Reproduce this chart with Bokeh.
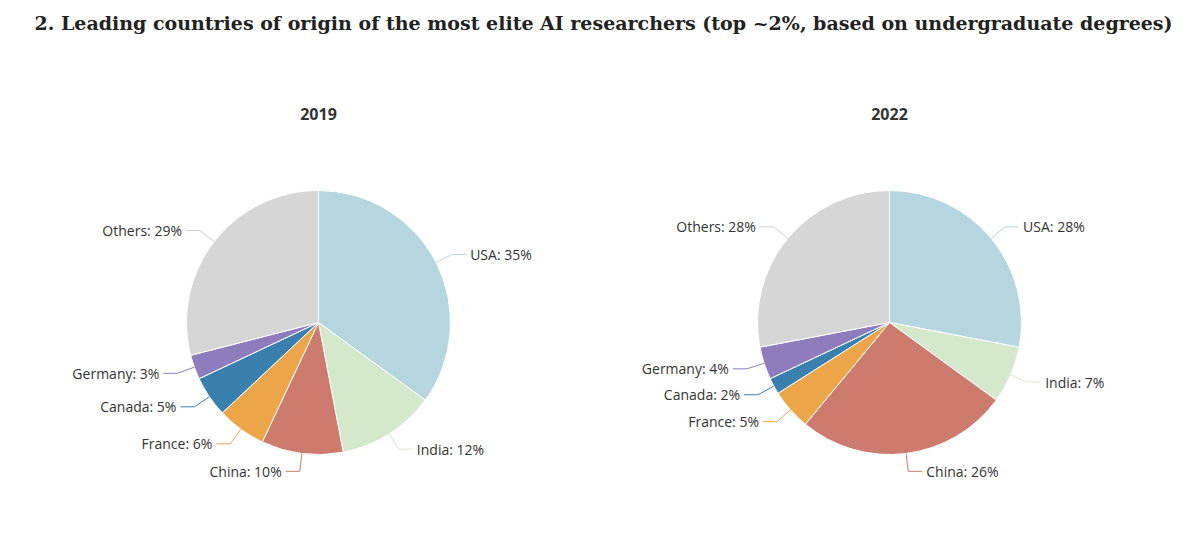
import numpy as np
from bokeh.plotting import figure
from bokeh.models import Label
from bokeh.embed import file_html
from bokeh.resources import INLINE

countries = ["USA", "India", "China", "France", "Canada", "Germany", "Others"]
share_2019 = [35, 12, 10, 6, 5, 3, 29]
share_2022 = [28, 7, 26, 5, 2, 4, 28]
colors = ["#b6d6df", "#d4e9cb", "#cd7b6e", "#eca548", "#3a80ae", "#8f7cbd", "#d6d6d6"]

W, H = 1184, 521
p = figure(width=W, height=H, x_range=(0, W), y_range=(0, H), output_backend="svg",
           toolbar_location=None, min_border=0)
p.axis.visible = False
p.grid.visible = False
p.outline_line_color = None

def Y(sy):
    return H - (sy - 8)

p.add_layout(Label(x=34, y=Y(30), text="2. Leading countries of origin of the most elite AI researchers (top ~2%, based on undergraduate degrees)",
                   text_font="DejaVu Serif", text_font_style="bold", text_font_size="19px",
                   text_color="#222222", text_baseline="middle"))

R = 132
for cx_s, vals, year in [(326, share_2019, "2019"), (897, share_2022, "2022")]:
    cx, cy = cx_s - 8, Y(330)
    p.add_layout(Label(x=cx, y=Y(121), text=year, text_font="Open Sans", text_font_style="bold",
                       text_font_size="16px", text_color="#333333", text_align="center", text_baseline="middle"))
    tot = sum(vals)
    cum = 0.0
    for name, v, c in zip(countries, vals, colors):
        a0 = np.pi / 2 - 2 * np.pi * cum / tot
        a1 = np.pi / 2 - 2 * np.pi * (cum + v) / tot
        p.wedge(x=[cx], y=[cy], radius=R, start_angle=[a1], end_angle=[a0],
                fill_color=c, line_color="white", line_width=1)
        mid = (a0 + a1) / 2
        cm, sm = np.cos(mid), np.sin(mid)
        x1, y1 = cx + R * cm, cy + R * sm
        x2, y2 = cx + (R + 18) * cm, cy + (R + 18) * sm
        side = 1 if cm >= 0 else -1
        x3 = x2 + side * 14
        p.line([x1, x2, x3], [y1, y2, y2], line_color=c if name != "Others" else "#cccccc", line_width=1)
        p.add_layout(Label(x=x3 + side * 4, y=y2, text=f"{name}: {v}%", text_font="Open Sans",
                           text_font_size="14px", text_color="#333333",
                           text_align="left" if side > 0 else "right", text_baseline="middle"))
        cum += v

open("out.html", "w").write(file_html(p, INLINE))
